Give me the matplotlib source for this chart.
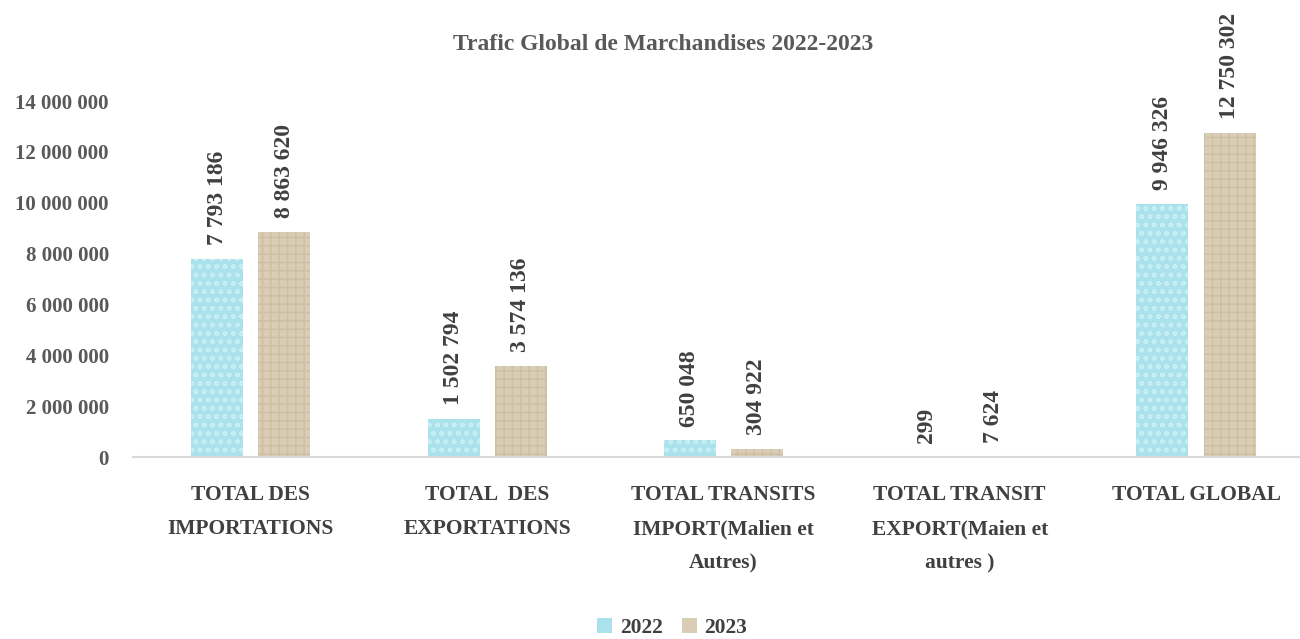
import numpy as np
import matplotlib.pyplot as plt
from matplotlib.ticker import FuncFormatter

plt.rcParams['font.family'] = ['Liberation Serif', 'DejaVu Serif']
plt.rcParams['font.weight'] = 'bold'
plt.rcParams['hatch.linewidth'] = 1.0

# -------- DATA --------
categories = [
    "TOTAL DES\nIMPORTATIONS",
    "TOTAL  DES\nEXPORTATIONS",
    "TOTAL TRANSITS\nIMPORT(Malien et\nAutres)",
    "TOTAL TRANSIT\nEXPORT(Maien et\nautres )",
    "TOTAL GLOBAL",
]
years = ["2022", "2023"]
vals_2022 = [7793186, 1502794, 650048, 299, 9946326]
vals_2023 = [8863620, 3574136, 304922, 7624, 12750302]

def fmt(v, pos=None):
    return f"{int(v):,}".replace(",", " ")

# -------- PLOT --------
fig = plt.figure(figsize=(13, 6.39), dpi=100)
ax = fig.add_axes([0.102, 0.2848, 0.898, 0.557])

x = np.arange(len(categories))
w = 0.22
off = 0.142

b1 = ax.bar(x - off, vals_2022, w, color="#a9e2ec", edgecolor="none", label=years[0])
ax.bar(x - off, vals_2022, w, fill=False, edgecolor="#c9eef4", linewidth=0, hatch="oo")
b2 = ax.bar(x + off, vals_2023, w, color="#dacdb6", edgecolor="none", label=years[1])
ax.bar(x + off, vals_2023, w, fill=False, edgecolor="#cdbfa3", linewidth=0, hatch="++")

for xs, vals in [(x - off, vals_2022), (x + off, vals_2023)]:
    for xi, v in zip(xs, vals):
        ax.annotate(fmt(v), (xi, v), xytext=(0, 10), textcoords="offset points",
                    rotation=90, ha="center", va="bottom", fontsize=17,
                    fontweight="bold", color="#404040", annotation_clip=False)

ax.set_xlim(-0.5, 4.44)
ax.set_ylim(0, 14000000)
ax.set_yticks(np.arange(0, 14000001, 2000000))
ax.yaxis.set_major_formatter(FuncFormatter(fmt))
ax.set_xticks(x)
ax.set_xticklabels(categories, fontsize=15.5, color="#404040", linespacing=1.95, va="top")
ax.tick_params(axis="x", length=0, labelsize=15.5, pad=20, labelcolor="#404040")
ax.tick_params(axis="y", length=0, labelsize=15, pad=17, labelcolor="#595959")

for s in ["top", "right", "left"]:
    ax.spines[s].set_visible(False)
ax.spines["bottom"].set_color("#d9d9d9")
ax.spines["bottom"].set_linewidth(1.5)

fig.text(0.51, 0.93, "Trafic Global de Marchandises 2022-2023", ha="center",
         va="center", fontsize=17, fontweight="bold", color="#595959")

fig.legend(handles=[b1, b2], labels=years, loc="center", bbox_to_anchor=(0.517, 0.017),
           ncol=2, frameon=False, fontsize=15.5, handlelength=0.7, handleheight=0.7,
           handletextpad=0.35, columnspacing=0.9, labelcolor="#404040")

fig.savefig("out.png", dpi=100)
